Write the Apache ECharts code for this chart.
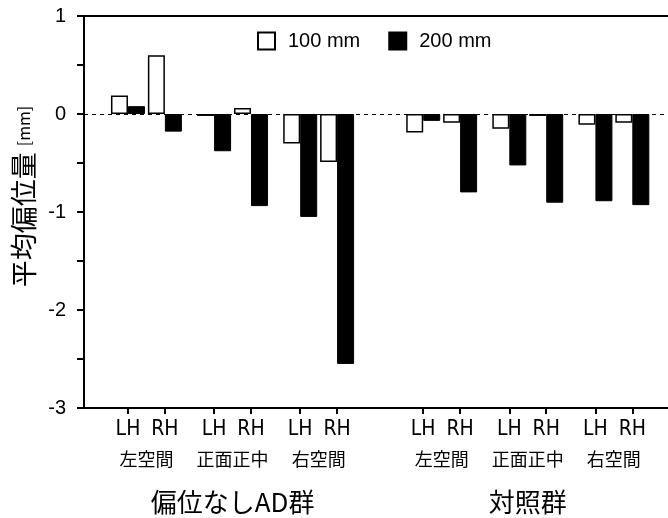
<!DOCTYPE html>
<html>
<head>
<meta charset="utf-8">
<script src="https://cdn.jsdelivr.net/npm/echarts@6/dist/echarts.min.js"></script>
<style>html,body{margin:0;padding:0;background:#fff}#c{width:668px;height:518px}</style>
</head>
<body>
<div id="c"></div>
<script>
// ---- data ----
const groups = ['偏位なしAD群', '対照群'];
const sites = ['左空間', '正面正中', '右空間'];
const hands = ['LH', 'RH'];
const seriesNames = ['100 mm', '200 mm'];
// values in order: group -> site -> hand
const values100 = [0.19, 0.60, -0.02, 0.06, -0.30, -0.49,
                   -0.19, -0.09, -0.15, -0.02, -0.11, -0.09];
const values200 = [0.08, -0.18, -0.38, -0.94, -1.05, -2.55,
                   -0.07, -0.80, -0.525, -0.905, -0.89, -0.93];
const yTicks = [-3, -2, -1, 0, 1];
const yName = '平均偏位量';
const yUnit = '[mm]';

// ---- layout (slot units on the x scale) ----
const HAND_STEP = 3, SITE_STEP = 7, GROUP_STEP = 24;
const XMIN = -3.575, XMAX = 43.9;
const xs = [], handLabels = [];
groups.forEach((g, gi) => sites.forEach((s, si) => hands.forEach((h, hi) => {
  xs.push(gi * GROUP_STEP + si * SITE_STEP + hi * HAND_STEP);
  handLabels.push(h);
})));
const siteX = [], siteLabels = [];
for (let k = 0; k < xs.length; k += 2) {
  siteX.push((xs[k] + xs[k + 1]) / 2);
  siteLabels.push(sites[(k / 2) % sites.length]);
}
const groupX = groups.map((g, gi) => (xs[gi * 6] + xs[gi * 6 + 5]) / 2);

const lookup = (keys, labels) => { const m = new Map(); keys.forEach((k, i) => m.set(k, labels[i])); return v => m.has(v) ? m.get(v) : ''; };

const JP = '"Noto Sans CJK JP", sans-serif';
const SANS = '"Liberation Sans", Arial, sans-serif';
const NARROW = '"Liberation Sans Narrow", "DejaVu Sans Condensed", sans-serif';

const baseX = { type: 'value', min: XMIN, max: XMAX, gridIndex: 0, splitLine: { show: false } };

const chart = echarts.init(document.getElementById('c'));
chart.setOption({
  animation: false,
  backgroundColor: '#fff',
  grid: { left: 84, right: 0, top: 16, bottom: 110, containLabel: false },
  legend: {
    data: seriesNames, left: 257, top: 31, padding: 0, icon: 'rect', itemWidth: 17, itemHeight: 17,
    itemGap: 28,
    textStyle: { fontSize: 20, fontFamily: SANS, color: '#000', padding: [0, 0, 0, 8] }
  },
  xAxis: [
    Object.assign({}, baseX, {
      position: 'bottom',
      axisLine: { show: true, onZero: false, lineStyle: { color: '#000', width: 2 } },
      axisTick: { show: true, customValues: xs, length: 6, lineStyle: { color: '#000', width: 2 } },
      axisLabel: { customValues: xs, formatter: lookup(xs, handLabels), margin: 11, fontSize: 21, fontFamily: NARROW, color: '#000' }
    }),
    Object.assign({}, baseX, {
      position: 'bottom',
      axisLine: { show: false, onZero: false }, axisTick: { show: false },
      axisLabel: { customValues: siteX, formatter: lookup(siteX, siteLabels), margin: 42, fontSize: 18, fontFamily: JP, color: '#000' }
    }),
    Object.assign({}, baseX, {
      position: 'bottom',
      axisLine: { show: false, onZero: false }, axisTick: { show: false },
      axisLabel: { customValues: groupX, formatter: lookup(groupX, groups), margin: 81, fontSize: 26, fontFamily: JP, color: '#000' }
    }),
    Object.assign({}, baseX, {
      position: 'top',
      axisLine: { show: true, onZero: false, lineStyle: { color: '#000', width: 2 } },
      axisTick: { show: false }, axisLabel: { show: false }
    })
  ],
  yAxis: {
    type: 'value', min: -3, max: 1, interval: 0.5,
    axisLine: { show: true, onZero: false, lineStyle: { color: '#000', width: 2 } },
    axisTick: { show: true, length: 7, lineStyle: { color: '#000', width: 2 } },
    axisLabel: { formatter: v => yTicks.includes(v) ? String(v) : '', fontSize: 20, margin: 18, fontFamily: SANS, color: '#000' },
    splitLine: { show: false },
    name: '{a|' + yName + '} {b|' + yUnit + '}',
    nameLocation: 'middle', nameRotate: 90, nameGap: 47,
    nameTextStyle: {
      fontSize: 27, fontFamily: JP, color: '#000',
      padding: [0, 0, 0, 31],
      rich: { a: { fontSize: 27, fontFamily: JP, color: '#000' }, b: { fontSize: 16, fontFamily: JP, color: '#000' } }
    }
  },
  series: [
    {
      name: seriesNames[0], type: 'bar', xAxisIndex: 0, barWidth: 17, barGap: '0%',
      itemStyle: { color: '#fff', borderColor: '#000', borderWidth: 1.5 },
      data: xs.map((x, i) => [x, values100[i]]),
      markLine: {
        silent: true, symbol: 'none', z: 1, label: { show: false },
        lineStyle: { color: '#000', width: 1, type: [4, 4] },
        data: [{ yAxis: 0 }]
      }
    },
    {
      name: seriesNames[1], type: 'bar', xAxisIndex: 0, barWidth: 17, barGap: '0%',
      itemStyle: { color: '#000', borderColor: '#000', borderWidth: 1 },
      data: xs.map((x, i) => [x, values200[i]])
    }
  ]
});
</script>
</body>
</html>
